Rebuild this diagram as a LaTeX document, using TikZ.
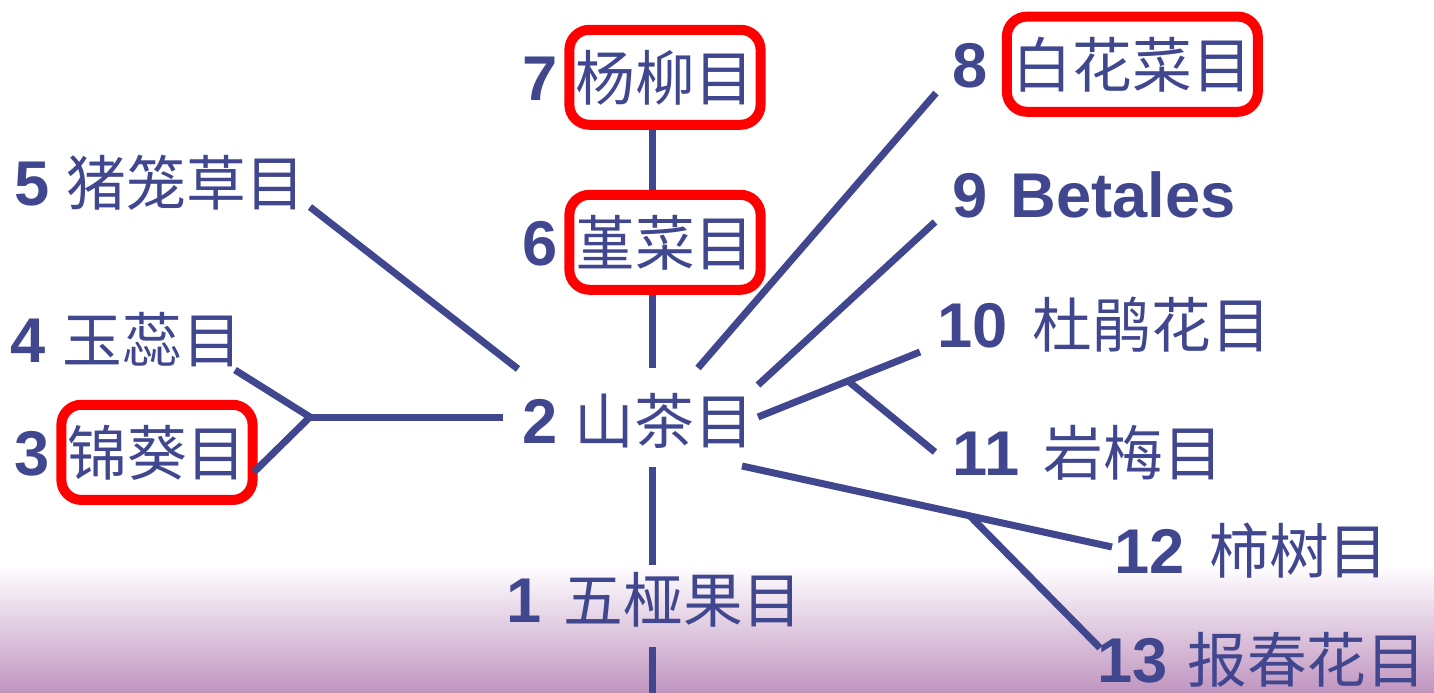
\documentclass[tikz,border=0pt]{standalone}
\usepackage{fontspec}
\newfontfamily\cjk{Noto Sans CJK SC}
\newfontfamily\numfont{Liberation Sans}
\usepackage{tikz}
\usetikzlibrary{positioning}

\definecolor{ordblue}{RGB}{64,71,143}
\definecolor{markred}{RGB}{255,0,0}
\definecolor{bandpurple}{RGB}{192,148,192}

\tikzset{
  num/.style={inner sep=0pt, anchor=base west, text=ordblue, font=\numfont\bfseries\fontsize{36}{40}\selectfont},
  order/.style={inner xsep=0.08cm, inner ysep=0.2cm, text=ordblue, font=\cjk\fontsize{34}{40}\selectfont},
  marked/.style={order, inner xsep=0.12cm, inner ysep=0.4cm, draw=markred, line width=0.2cm, rounded corners=0.4cm, fill=white, xshift=-0.12cm},
  branch/.style={draw=ordblue, line width=0.14cm},
}

\begin{document}
\begin{tikzpicture}[x=0.02cm, y=-0.02cm, node distance=0.25cm]

% Size of the picture
\useasboundingbox (0,0) rectangle (1434,693);
\shade[top color=white, bottom color=bandpurple] (0,565) rectangle (1434,693);

% Left side
\node[num] (n5) at (14,205) {5};
\node[order, base right=of n5] (t5) {猪笼草目};
\node[num] (n4) at (10,362) {4};
\node[order, base right=of n4] (t4) {玉蕊目};
\node[num] (n3) at (14,475) {3};
\node[marked, base right=of n3] (t3) {锦葵目};

% Middle column
\node[num] (n7) at (522,100) {7};
\node[marked, base right=of n7] (t7) {杨柳目};
\node[num] (n6) at (522,265) {6};
\node[marked, base right=of n6] (t6) {堇菜目};
\node[num] (n2) at (522,443) {2};
\node[order, base right=of n2] (t2) {山茶目};
\node[num] (n1) at (506,622) {1};
\node[order, base right=0.35cm of n1] (t1) {五桠果目};

% Right side
\node[num] (n8) at (952,87) {8};
\node[marked, base right=0.4cm of n8] (t8) {白花菜目};
\node[num] (n9) at (952,217) {9};
\node[num, base right=0.45cm of n9] (t9) {Betales};
\node[num] (n10) at (937,347) {10};
\node[order, base right=0.4cm of n10] (t10) {杜鹃花目};
\node[num] (n11) at (952,475) {11};
\node[order, base right=0.4cm of n11] (t11) {岩梅目};
\node[num] (n12) at (1114,573) {12};
\node[order, base right=0.4cm of n12] (t12) {柿树目};
\node[num] (n13) at (1097,682) {13};
\node[order, base right=0.3cm of n13] (t13) {报春花目};

% Line ends and forks
\coordinate (spine) at (652,0);
\coordinate (up2) at (652,368);
\coordinate (down2) at (652,467);
\coordinate (up1) at (652,565);
\coordinate (down1) at (652,647);
\coordinate (bottom) at (652,693);
\coordinate (h5) at (518,369);
\coordinate (e5) at (310,207);
\coordinate (hl) at (503,417);
\coordinate (j34) at (310,417);
\coordinate (e4) at (235,370);
\coordinate (e3) at (254,472);
\coordinate (h8) at (698,368);
\coordinate (e8) at (936,93);
\coordinate (h9) at (758,385);
\coordinate (e9) at (935,222);
\coordinate (h10) at (758,417);
\coordinate (e10) at (920,352);
\coordinate (j11) at (848,381);
\coordinate (e11) at (935,452);
\coordinate (h12) at (742,466);
\coordinate (e12) at (1112,547);
\coordinate (j13) at (970,516);
\coordinate (e13) at (1100,648);

% Branches
\draw[branch] (t7.south -| spine) -- (t6.north -| spine);
\draw[branch] (t6.south -| spine) -- (up2);
\draw[branch] (down2) -- (up1);
\draw[branch] (down1) -- (bottom);
\draw[branch] (e5) -- (h5);
\draw[branch] (hl) -- (j34);
\draw[branch] (e4) -- (j34) -- (e3);
\draw[branch] (h8) -- (e8);
\draw[branch] (h9) -- (e9);
\draw[branch] (h10) -- (e10);
\draw[branch] (j11) -- (e11);
\draw[branch] (h12) -- (e12);
\draw[branch] (j13) -- (e13);

\end{tikzpicture}
\end{document}
